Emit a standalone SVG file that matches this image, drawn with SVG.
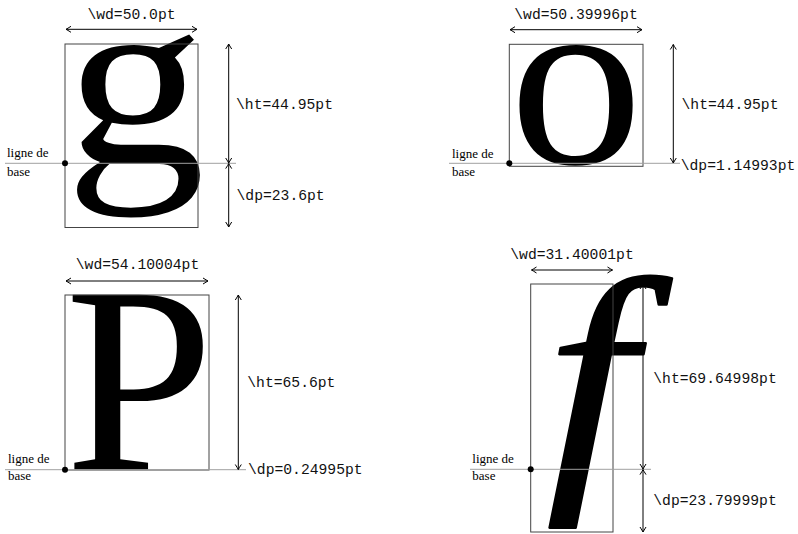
<svg xmlns="http://www.w3.org/2000/svg" width="798" height="534" viewBox="0 0 798 534">
<defs>
<marker id="ah" viewBox="-6 -4 7 8" refX="0" refY="0" markerWidth="7" markerHeight="8" orient="auto-start-reverse" markerUnits="userSpaceOnUse">
<path d="M -5 -3 Q -1.5 -0.8 0 0 Q -1.5 0.8 -5 3" fill="none" stroke="#000" stroke-width="1"/>
</marker>
</defs>
<style>
.glyph{font-family:"Liberation Serif","Times New Roman",serif;font-size:267px;fill:#000}
.box{fill:none;stroke:#444;stroke-width:1}
.base{stroke:#a0a0a0;stroke-width:1}
.dim{stroke:#000;stroke-width:1;fill:none;marker-start:url(#ah);marker-end:url(#ah)}
.lab{font-family:"Liberation Mono","DejaVu Sans Mono",monospace;font-size:14.7px;fill:#111}
.bl{font-family:"Liberation Serif","Times New Roman",serif;font-size:13px;fill:#000}
.dot{fill:#000}
</style>
<rect width="798" height="534" fill="#fff"/>

<g id="panel-g">
<text class="glyph" transform="translate(65 163.3) scale(1.05 0.94)" x="0" y="0">g</text>
<rect class="box" x="65" y="44" width="133" height="183.5"/>
<line class="base" x1="5" y1="163.3" x2="236" y2="163.3"/>
<circle class="dot" cx="65" cy="163.3" r="3"/>
<text class="bl" x="7" y="157.3">ligne de</text>
<text class="bl" x="7" y="175.5">base</text>
<text class="lab" x="131.5" y="18.5" text-anchor="middle">\wd=50.0pt</text>
<text class="lab" x="236" y="108.5">\ht=44.95pt</text>
<text class="lab" x="236.5" y="200">\dp=23.6pt</text>
</g>

<g id="panel-o">
<text class="glyph" transform="translate(509.3 163.3) scale(1 0.94)" x="0" y="0">o</text>
<rect class="box" x="509.3" y="44.3" width="133.7" height="122"/>
<line class="base" x1="449" y1="163.3" x2="680" y2="163.3"/>
<circle class="dot" cx="509.3" cy="163.3" r="3"/>
<text class="bl" x="452" y="158">ligne de</text>
<text class="bl" x="452" y="175.7">base</text>
<text class="lab" x="576" y="18.5" text-anchor="middle">\wd=50.39996pt</text>
<text class="lab" x="681.5" y="108.5">\ht=44.95pt</text>
<text class="lab" x="680.7" y="170">\dp=1.14993pt</text>
</g>

<g id="panel-P">
<text class="glyph" x="65" y="469.7">P</text>
<rect class="box" x="65" y="295" width="144" height="175"/>
<line class="base" x1="5" y1="469.7" x2="246" y2="469.7"/>
<circle class="dot" cx="65" cy="469.7" r="3"/>
<text class="bl" x="8" y="462.7">ligne de</text>
<text class="bl" x="8" y="480">base</text>
<text class="lab" x="137.5" y="269.3" text-anchor="middle">\wd=54.10004pt</text>
<text class="lab" x="247.3" y="387.3">\ht=65.6pt</text>
<text class="lab" x="248" y="474.3">\dp=0.24995pt</text>
</g>

<g id="panel-f">
<text class="glyph" transform="translate(546 469.3) scale(1.2 1.03)" x="0" y="0" font-style="italic" stroke="#000" stroke-width="2.2" stroke-linejoin="round">f</text>
<rect class="box" x="530.7" y="284" width="82.3" height="248"/>
<line class="base" x1="470" y1="469.3" x2="651" y2="469.3"/>
<circle class="dot" cx="530.7" cy="469.3" r="3"/>
<text class="bl" x="472.3" y="462.7">ligne de</text>
<text class="bl" x="472.3" y="480">base</text>
<text class="lab" x="572" y="259.3" text-anchor="middle">\wd=31.40001pt</text>
<text class="lab" x="653.3" y="382.7">\ht=69.64998pt</text>
<text class="lab" x="653.3" y="505">\dp=23.79999pt</text>
</g>

<g id="connectors">
<line class="dim" x1="66" y1="29.3" x2="197" y2="29.3"/>
<line class="dim" x1="228.7" y1="44" x2="228.7" y2="163"/>
<line class="dim" x1="228.7" y1="163.6" x2="228.7" y2="227"/>
<line class="dim" x1="510" y1="29.7" x2="642" y2="29.7"/>
<line class="dim" x1="673.3" y1="44.5" x2="673.3" y2="163"/>
<line class="dim" x1="66" y1="281" x2="208" y2="281"/>
<line class="dim" x1="238.3" y1="295" x2="238.3" y2="469.5"/>
<line class="dim" x1="531.5" y1="270" x2="612.5" y2="270"/>
<line class="dim" x1="643" y1="284" x2="643" y2="469"/>
<line class="dim" x1="643" y1="469.6" x2="643" y2="532"/>
</g>
</svg>
